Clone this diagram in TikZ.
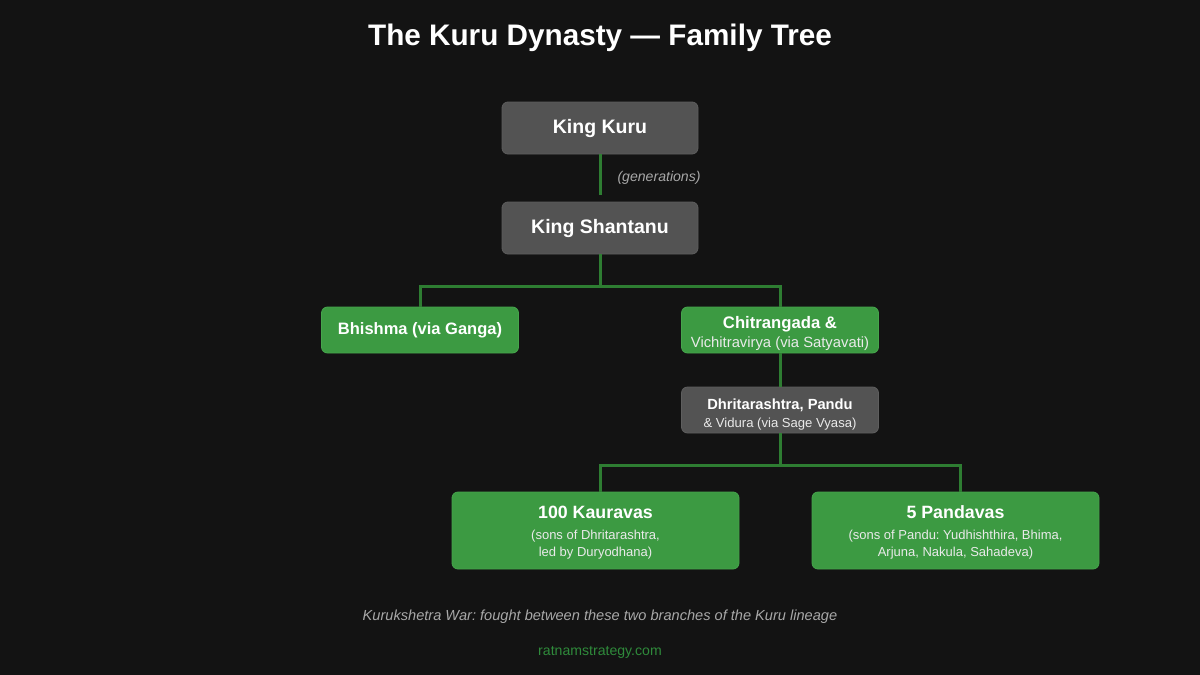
\documentclass[tikz,border=0pt]{standalone}
\usepackage{fontspec}
\setmainfont{Liberation Sans}
\usetikzlibrary{positioning}
\definecolor{bgcol}{HTML}{131313}
\definecolor{boxgray}{HTML}{535353}
\definecolor{boxgrayline}{HTML}{5E5E5E}
\definecolor{boxgreen}{HTML}{3C9A42}
\definecolor{boxgreenline}{HTML}{46A54C}
\definecolor{linegreen}{HTML}{2E7D32}
\definecolor{footgray}{HTML}{A8A8A8}
\definecolor{urlgreen}{HTML}{2F8A3B}
\definecolor{subtext}{HTML}{EAEAEA}
\newcommand{\fs}[2]{\fontsize{#1}{#2}\selectfont}
\frenchspacing
\begin{document}
\begin{tikzpicture}[x=1pt, y=-1pt,
  box/.style={rounded corners=6pt, text=white, inner sep=0pt, align=center, line width=.8pt},
  graybox/.style={box, fill=boxgray, draw=boxgrayline},
  greenbox/.style={box, fill=boxgreen, draw=boxgreenline},
  link/.style={draw=linegreen, line width=3pt}]
\path[fill=bgcol] (0,0) rectangle (1200,675);
\node[text=white, font=\bfseries\fs{29.7}{34}] (title) at (600,38) {The Kuru Dynasty --- Family Tree};
% top of the line
\node[graybox, minimum width=196pt, minimum height=52pt, font=\bfseries\fs{19.5}{22}] (kuru) at (600,128) {King Kuru};
\node[graybox, minimum width=196pt, minimum height=52pt, font=\bfseries\fs{19.5}{22}] (shantanu) at (600,228) {King Shantanu};
\draw[link, shorten >=7pt] (kuru) -- (shantanu) node[midway, right=16pt, inner sep=0pt, text=footgray, font=\itshape\fs{14.1}{16}] {(generations)};
% sons of Shantanu
\node[greenbox, minimum width=197pt, minimum height=46pt, font=\bfseries\fs{16.5}{19}] (bhishma) at (420,330) {Bhishma (via Ganga)};
\node[greenbox, minimum width=197pt, minimum height=46pt, font=\fs{15}{19}] (chitra) at (780,330)
  {\rule{0pt}{18.5pt}{\bfseries\fs{16.7}{19}Chitrangada \&}\\{\color{subtext}\fs{14.8}{19}Vichitravirya (via Satyavati)}};
\draw[link] (shantanu.south) -- ++(0,32) coordinate (fork1);
\draw[link] (bhishma.north) |- (fork1) -| (chitra.north);
% via Vyasa
\node[graybox, minimum width=197pt, minimum height=46pt, font=\fs{13}{18}] (dhrita) at (780,410)
  {\rule{0pt}{20.5pt}{\bfseries\fs{14.7}{18}Dhritarashtra, Pandu}\\{\color{subtext}\fs{13.1}{18}\& Vidura (via Sage Vyasa)}};
\draw[link] (chitra) -- (dhrita);
% the two branches
\node[greenbox, minimum width=287pt, minimum height=77pt, font=\fs{13}{17}] (kaurava) at (595.5,530.5)
  {\rule{0pt}{17pt}{\bfseries\fs{17.8}{22}100 Kauravas}\\[4pt]{\color{subtext}(sons of Dhritarashtra,}\\{\color{subtext}led by Duryodhana)}};
\node[greenbox, minimum width=287pt, minimum height=77pt, font=\fs{13}{17}] (pandava) at (955.5,530.5)
  {\rule{0pt}{17pt}{\bfseries\fs{17.8}{22}5 Pandavas}\\[4pt]{\color{subtext}(sons of Pandu: Yudhishthira, Bhima,}\\{\color{subtext}Arjuna, Nakula, Sahadeva)}};
\draw[link] (dhrita.south) -- ++(0,32) coordinate (fork2);
\draw[link] ([xshift=4.5pt]kaurava.north) |- (fork2) -| ([xshift=4.5pt]pandava.north);
\node[text=footgray, font=\itshape\fs{14.6}{17}] (war) at (600,617) {Kurukshetra War: fought between these two branches of the Kuru lineage};
\node[text=urlgreen, font=\fs{14.1}{17}] (site) at (600,652) {ratnamstrategy.com};
\end{tikzpicture}
\end{document}
